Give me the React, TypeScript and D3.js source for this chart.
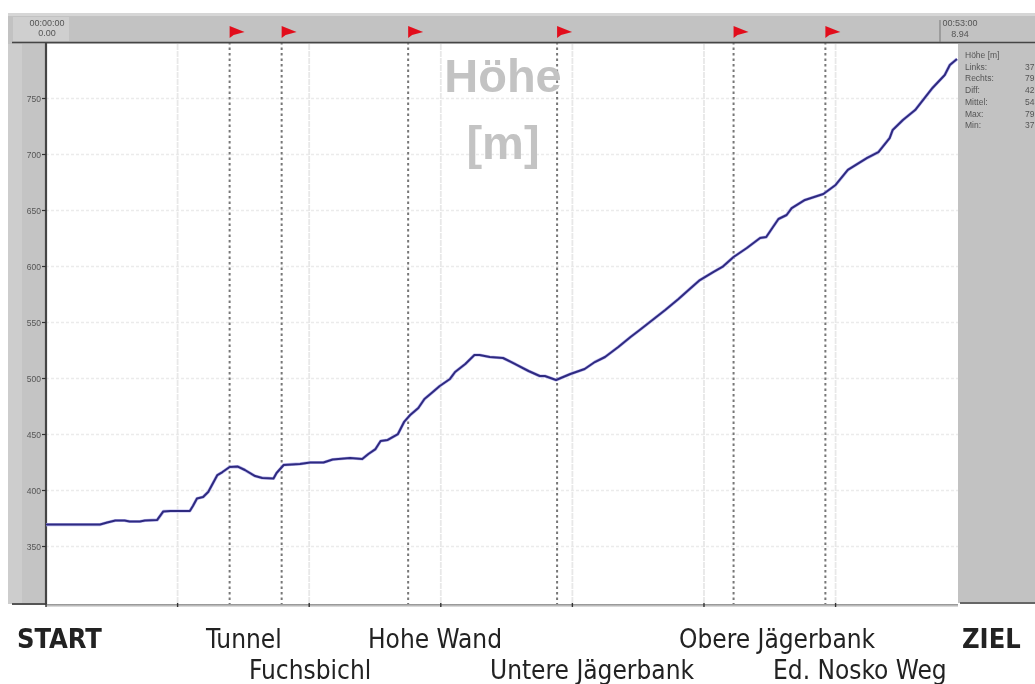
import React from "react";
import * as d3 from "d3";

const kmValues = [0,.53,.60,.68,.77,.82,.92,.97,1.09,1.15,1.22,1.41,1.44,1.48,1.54,1.59,1.68,1.73,1.80,1.88,1.95,2.05,2.12,2.23,2.26,2.33,2.49,2.59,2.72,2.81,2.98,3.10,3.16,3.23,3.28,3.35,3.45,3.51,3.57,3.65,3.71,3.78,3.86,3.96,4.01,4.11,4.20,4.25,4.35,4.48,4.60,4.73,4.84,4.89,5.00,5.14,5.28,5.38,5.48,5.61,5.73,5.82,5.92,6.07,6.20,6.31,6.41,6.54,6.63,6.74,6.87,7.0,7.06,7.12,7.18,7.26,7.31,7.44,7.62,7.74,7.86,8.05,8.16,8.27,8.30,8.40,8.52,8.69,8.81,8.86,8.93];
const heights = [369.6,369.6,371.4,373.2,373.2,372.3,372.3,373.2,373.7,381.3,381.7,381.7,386.2,392.9,394.2,398.7,413.8,416.5,421,421.4,418.3,412.9,411.2,410.7,415.6,422.8,423.7,425,425,427.7,429,428.1,432.6,437,444.2,445.1,450.4,461.2,467.4,473.7,481.7,487,493.3,499.6,505.8,512.9,521,521,519.2,518.3,512.9,506.7,502.2,502.2,498.7,504,508.5,514.7,519.2,528.1,537,543.3,550.4,561.2,571,579.9,587.9,595,599.6,608.5,616.5,625.5,626.3,634.4,642.4,646,652.2,659.4,664.7,672.8,686.2,696.9,702.2,714.7,721.9,730.8,739.7,759.4,771,779.9,785.3];
const yTicks = [350,400,450,500,550,600,650,700,750];
const gridKm = [1.29,2.58,3.87,5.16,6.45,7.74];
const flagKm = [1.8,2.31,3.55,5.01,6.74,7.64];
const statNames = ["Höhe [m]","Links:","Rechts:","Diff:","Mittel:","Max:","Min:"];
const statValues = ["","37","79","42","54","79","37"];
const startLabels = ["00:00:00","0.00"];
const endLabels = ["00:53:00","8.94"];
const placeTop = ["Tunnel","Hohe Wand","Obere Jägerbank"];
const placeTopX = [206,368,679];
const placeBottom = ["Fuchsbichl","Untere Jägerbank","Ed. Nosko Weg"];
const placeBottomX = [249,490,773];

const x = d3.scaleLinear().domain([0, 8.94]).range([46, 958]);
const y = d3.scaleLinear().domain([350, 750]).range([546.5, 98.5]);
const line = d3.line<number>().x((_, i) => x(kmValues[i])).y(d => y(d));
const ui = "'Liberation Sans', Arial, sans-serif";
const label = "'DejaVu Sans Condensed', 'DejaVu Sans', sans-serif";

export default function App() {
  return (
    <svg width={1035} height={684} style={{ position: "absolute", left: 0, top: 0, background: "#fff" }}>
      <defs>
        <filter id="soft" x="-5%" y="-5%" width="110%" height="110%"><feGaussianBlur stdDeviation="0.7" /></filter>
        <filter id="title" x="-5%" y="-5%" width="110%" height="110%"><feGaussianBlur stdDeviation="0.5" /></filter>
        <linearGradient id="bottomFade" x1="0" y1="0" x2="0" y2="1">
          <stop offset="0" stopColor="#8a8a8a" /><stop offset="1" stopColor="#e8e8e8" />
        </linearGradient>
      </defs>
      <g filter="url(#soft)">
        <rect x={8} y={13} width={1027} height={31} fill="#c2c2c2" />
        <rect x={8} y={13} width={1027} height={3} fill="#d6d6d6" />
        <rect x={8} y={44} width={38} height={560} fill="#c4c4c4" />
        <rect x={8} y={44} width={14} height={560} fill="#cdcdcd" />
        <rect x={958} y={44} width={77} height={559} fill="#c2c2c2" />
        <rect x={13} y={17} width={56} height={24} fill="#cfcfcf" />

        {yTicks.map(t => <line key={t} x1={46} x2={958} y1={y(t)} y2={y(t)} stroke="#ebebeb" strokeWidth={1.5} strokeDasharray="3 2" />)}
        {gridKm.map(k => <line key={k} x1={x(k)} x2={x(k)} y1={44} y2={604} stroke="#e8e8e8" strokeWidth={1.8} strokeDasharray="6 1" />)}
        {flagKm.map(k => <line key={k} x1={x(k)} x2={x(k)} y1={42} y2={604} stroke="#777" strokeWidth={2} strokeDasharray="2.5 3" />)}

        <line x1={12} x2={1035} y1={42.5} y2={42.5} stroke="#444" strokeWidth={1.6} />
        <line x1={46} x2={46} y1={43} y2={605} stroke="#444" strokeWidth={2.2} />
        <line x1={940} x2={940} y1={20} y2={42} stroke="#777" />
        <rect x={12} y={603} width={34} height={2} fill="#555" />
        <rect x={960} y={602} width={75} height={2} fill="#666" />
        <rect x={46} y={604} width={912} height={3} fill="url(#bottomFade)" />

        {yTicks.map(t => (
          <g key={t}>
            <line x1={42} x2={46} y1={y(t)} y2={y(t)} stroke="#333" strokeWidth={1.2} />
            <text x={41} y={y(t) + 3} textAnchor="end" fontFamily={ui} fontSize={8.5} fill="#555">{t}</text>
          </g>
        ))}
        {[0, ...gridKm].map(k => <line key={k} x1={x(k)} x2={x(k)} y1={603} y2={607} stroke="#333" strokeWidth={1.4} />)}

        {startLabels.map((s, i) => <text key={s} x={47} y={26 + i * 10} textAnchor="middle" fontFamily={ui} fontSize={9} fill="#555">{s}</text>)}
        {endLabels.map((s, i) => <text key={s} x={960} y={26 + i * 11} textAnchor="middle" fontFamily={ui} fontSize={9} fill="#555">{s}</text>)}

        {statNames.map((s, i) => (
          <g key={s}>
            <text x={965} y={58 + i * 11.7} fontFamily={ui} fontSize={8.5} fill="#555">{s}</text>
            <text x={1025} y={58 + i * 11.7} fontFamily={ui} fontSize={8.5} fill="#555">{statValues[i]}</text>
          </g>
        ))}

        {flagKm.map(k => (
          <path key={k} d={`M${x(k)},26 L${x(k) + 5},28 L${x(k) + 15},32 L${x(k) + 4},35 L${x(k)},38 Z`} fill="#e2101c" />
        ))}
      </g>

      <g filter="url(#title)">
        <text x={503} y={92} textAnchor="middle" fontFamily={ui} fontWeight="bold" fontSize={47} fill="#c3c3c3">Höhe</text>
        <text x={503} y={159} textAnchor="middle" fontFamily={ui} fontWeight="bold" fontSize={47} fill="#c3c3c3">[m]</text>
        <path d={line(heights) ?? ""} fill="none" stroke="#b9b6ee" strokeWidth={3.2} strokeLinejoin="round" />
        <path d={line(heights) ?? ""} fill="none" stroke="#2f2a80" strokeWidth={2} strokeLinejoin="round" />
        <text x={17} y={648} fontFamily={label} fontWeight="bold" fontSize={27} fill="#222">START</text>
        <text x={962} y={648} fontFamily={label} fontWeight="bold" fontSize={27} fill="#222">ZIEL</text>
        {placeTop.map((s, i) => <text key={s} x={placeTopX[i]} y={648} fontFamily={label} fontSize={26} fill="#222" >{s}</text>)}
        {placeBottom.map((s, i) => <text key={s} x={placeBottomX[i]} y={679} fontFamily={label} fontSize={26} fill="#222">{s}</text>)}
      </g>
    </svg>
  );
}
